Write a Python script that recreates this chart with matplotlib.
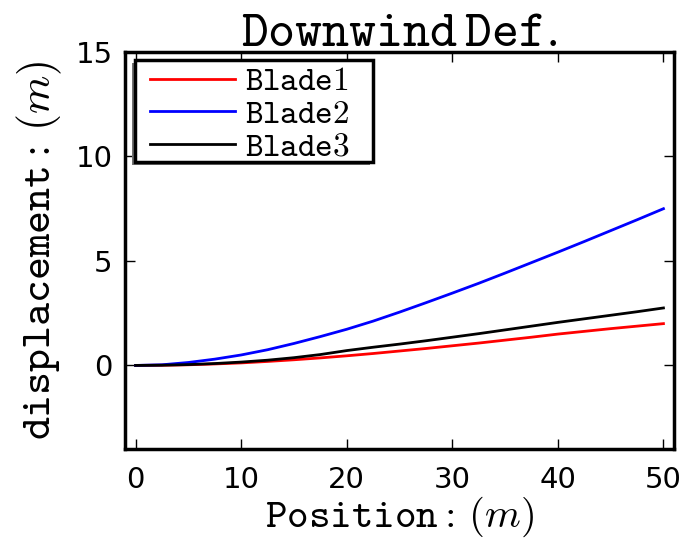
import matplotlib
matplotlib.use("Agg")
import matplotlib.pyplot as plt
from matplotlib.patches import Rectangle

plt.rcParams['mathtext.fontset'] = 'cm'
plt.rcParams['font.family'] = 'DejaVu Sans'

position = [0, 2.5, 5, 7.5, 10, 12.5, 15, 17.5, 20, 22.5, 25, 27.5, 30,
            32.5, 35, 37.5, 40, 42.5, 45, 47.5, 50]
blade1 = [0, 0.01, 0.03, 0.07, 0.12, 0.19, 0.27, 0.36, 0.46, 0.57, 0.69,
          0.81, 0.94, 1.07, 1.21, 1.35, 1.50, 1.63, 1.76, 1.88, 2.0]
blade2 = [0, 0.03, 0.14, 0.30, 0.50, 0.75, 1.05, 1.38, 1.73, 2.12, 2.55,
          3.0, 3.46, 3.93, 4.42, 4.92, 5.42, 5.93, 6.45, 6.97, 7.5]
blade3 = [0, 0.01, 0.04, 0.09, 0.16, 0.25, 0.37, 0.52, 0.71, 0.87, 1.02,
          1.18, 1.35, 1.52, 1.70, 1.88, 2.06, 2.23, 2.40, 2.57, 2.75]
labels = [r'$\mathtt{Blade}1$', r'$\mathtt{Blade}2$', r'$\mathtt{Blade}3$']
colors = ['red', 'blue', 'black']

fig = plt.figure(figsize=(6.92, 5.41), dpi=100)
L, R, T, B = 125, 674, 52, 449
W, H = R - L, B - T
ax = fig.add_axes([L/692, 1-B/541, W/692, H/541])
for ys, lab, c in zip([blade1, blade2, blade3], labels, colors):
    ax.plot(position, ys, color=c, label=lab, lw=2)

ax.set_xlim(-1, 51)
ax.set_ylim(-4, 15)
ax.set_xticks([0, 10, 20, 30, 40, 50])
ax.set_yticks([0, 5, 10, 15])
ax.tick_params(direction='in', top=True, right=True, labelsize=21, length=7, width=1)
ax.tick_params(axis='y', pad=9)
ax.tick_params(axis='x', pad=12)
for s in ax.spines.values():
    s.set_linewidth(2.5)
ax.set_title(r'$\mathtt{Downwind\,Def.}$', fontsize=37, pad=4)
ax.set_xlabel(r'$\mathtt{Position:}\,(m)$', fontsize=29.5, labelpad=0.5)
ax.set_ylabel(r'$\mathtt{displacement:}\,(m)$', fontsize=31.5, labelpad=8)

# legend box (frame + shadow), in axes fraction
fx0, fx1 = (135 - L) / W, (373 - L) / W
fy1, fy0 = (B - 60) / H, (B - 162) / H
sx, sy = 3 / W, 3 / H
ax.add_patch(Rectangle((fx0 - sx, fy0 - sy), fx1 - fx0, fy1 - fy0, transform=ax.transAxes,
                       facecolor='0.45', edgecolor='none', zorder=4.8, clip_on=False))
ax.add_patch(Rectangle((fx0, fy0), fx1 - fx0, fy1 - fy0, transform=ax.transAxes,
                       facecolor='white', edgecolor='black', lw=2.5, zorder=4.9, clip_on=False))
leg = ax.legend(loc='upper left', prop={'family': 'Liberation Serif', 'size': 24},
                frameon=False, handlelength=2.55, labelspacing=0.06, borderpad=0.0,
                handletextpad=0.3, bbox_to_anchor=((150 - L) / W, (B - 67) / H),
                borderaxespad=0)
leg.set_zorder(5)
fig.savefig('out.png', dpi=100)
